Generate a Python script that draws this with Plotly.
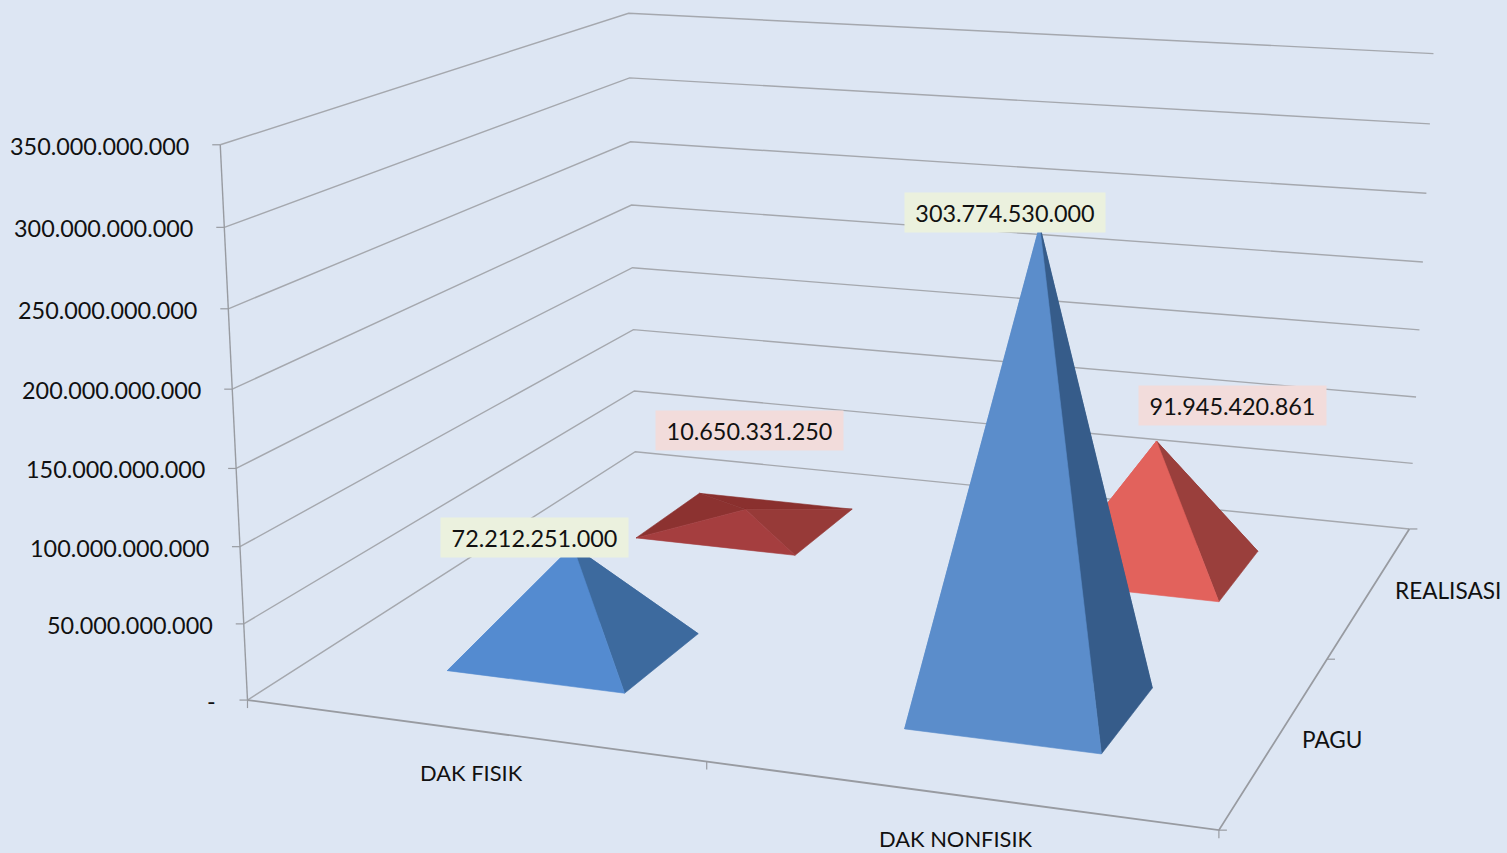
import numpy as np
import plotly.graph_objects as go

categories = ["DAK FISIK", "DAK NONFISIK"]
series = ["PAGU", "REALISASI"]
pagu = [72212251000, 303774530000]
realisasi = [10650331250, 91945420861]
z_ticks = [0, 50e9, 100e9, 150e9, 200e9, 250e9, 300e9, 350e9]
z_labels = ["-", "50.000.000.000", "100.000.000.000", "150.000.000.000", "200.000.000.000", "250.000.000.000", "300.000.000.000", "350.000.000.000"]
labels_pagu = ["72.212.251.000", "303.774.530.000"]
labels_realisasi = ["10.650.331.250", "91.945.420.861"]

W, H = 1507, 853
ZMAX = z_ticks[-1]

# Perspective camera of the chart box, solved from where the box's edges sit.
world = []
image = []
for lvl, (a, b, c) in enumerate(zip(
        [(248,700),(244,624),(240,546),(236,468),(232,389),(228,309),(224,228),(220,145)],
        [(635,452),(634,391),(633,329),(632,268),(632,205),(631,142),(630,78),(629,13)],
        [(1409,529),(1413,464),(1416,397),(1420,329),(1423,262),(1426,194),(1430,124),(1433,53)])):
    zn = lvl / 7
    world += [(0,0,zn),(0,1,zn),(1,1,zn)]
    image += [a, b, c]
world += [(1,0,0),(0.5,0,0),(1,0.5,0)]
image += [(1219,830),(707,762),(1327,659)]
world = np.array(world, float); image = np.array(image, float) / 1000
A = []
for (X,Y,Z),(u,v) in zip(world, image):
    A.append([X,Y,Z,1,0,0,0,0,-u*X,-u*Y,-u*Z,-u])
    A.append([0,0,0,0,X,Y,Z,1,-v*X,-v*Y,-v*Z,-v])
CAM = np.linalg.svd(np.array(A))[2][-1].reshape(3,4)

def proj(x, y, z):
    """x,y in category units (0..2), z in data units -> chart pixels."""
    q = CAM @ np.array([x / 2, y / 2, z / ZMAX, 1.0])
    return float(q[0] / q[2] * 1000), float(q[1] / q[2] * 1000)

GRID = "#a5a8ae"
AXIS = "#989ba1"
fig = go.Figure()

def line(points, width=1.4, color=GRID):
    xs, ys = zip(*points)
    fig.add_trace(go.Scatter(x=xs, y=ys, mode="lines", line=dict(color=color, width=width), hoverinfo="skip"))

for z in z_ticks:
    line([proj(0,0,z), proj(0,2,z), proj(2,2,z)])
    xa, ya = proj(0,0,z)
    line([(xa-8, ya), (xa, ya)], 1.2, AXIS)
line([proj(0,0,0), proj(0,0,ZMAX)], 1.4, AXIS)
line([proj(0,0,0), proj(2,0,0), proj(2,2,0)], 1.8, AXIS)
for t in [0,1,2]:
    xa, ya = proj(t,0,0); line([(xa,ya),(xa,ya+8)], 1.2, AXIS)
    xa, ya = proj(2,t,0); line([(xa,ya),(xa+8,ya)], 1.2, AXIS)

def pyramid(cx, cy, hx, hy, val, colors):
    c = [proj(cx-hx,cy-hy,0), proj(cx+hx,cy-hy,0), proj(cx+hx,cy+hy,0), proj(cx-hx,cy+hy,0)]
    apex = proj(cx,cy,val)
    # painter's order: back, left, right, front
    for a, b, col in [(2,3,colors[0]),(3,0,colors[1]),(1,2,colors[2]),(0,1,colors[3])]:
        pts = [c[a], c[b], apex, c[a]]
        xs, ys = zip(*pts)
        fig.add_trace(go.Scatter(x=xs, y=ys, mode="lines", fill="toself", fillcolor=col,
                                 line=dict(color=col, width=0.6), hoverinfo="skip"))
    return apex

RED_LOW = ["#8a302e", "#8c3230", "#973a38", "#a53e3f"]
RED_HIGH = ["#963b39", "#e2625c", "#9a3f3c", "#e2625c"]
BLUE1 = ["#3d6a9e", "#548bd0", "#3d6a9e", "#548bd0"]
BLUE2 = ["#365c8a", "#5b8dcb", "#365c8a", "#5b8dcb"]
HX, HY = 0.2, 0.2
ap_r1 = pyramid(0.5, 1.5, HX, HY, realisasi[0], RED_LOW)
ap_r2 = pyramid(1.5, 1.5, HX, HY, realisasi[1], RED_HIGH)
ap_p1 = pyramid(0.5, 0.5, HX, HY, pagu[0], BLUE1)
ap_p2 = pyramid(1.5, 0.5, HX, HY, pagu[1], BLUE2)

def fnt(size):
    return dict(family="Lato", size=size, color="#111111")
anns = []
def text(x, y, s, anchor="center", size=23.4):
    anns.append(dict(x=x, y=y, xref="x", yref="y", text=s, showarrow=False, font=fnt(size), xanchor=anchor, yanchor="middle"))

for z, s in zip(z_ticks, z_labels):
    xa, ya = proj(0,0,z)
    text(xa-29, ya+1, s, "right")
for s, t, (dx, dy) in zip(categories, [0.5,1.5], [(0,42),(0,44)]):
    xa, ya = proj(t,0,0); text(xa+dx, ya+dy, s, size=21.9)
for s, t, (dx, dy) in zip(series, [0.5,1.5], [(55.5,1),(77,1)]):
    xa, ya = proj(2,t,0); text(xa+dx, ya+dy, s, size=22.6)

def box(apex, s, col, w, dx, dy):
    anns.append(dict(x=apex[0]+dx, y=apex[1]+dy, xref="x", yref="y", text=s, showarrow=False, font=fnt(23.4),
                     bgcolor=col, width=w, height=39, borderpad=0, xanchor="center", yanchor="middle"))
box(ap_p1, labels_pagu[0], "#ebf1de", 187, 534.5-575+2, 537.5-553+7)
box(ap_p2, labels_pagu[1], "#ebf1de", 200, 1005-1040, 212.5-232+6)
box(ap_r1, labels_realisasi[0], "#f2dcdb", 187, 3.5, 430-507-2)
box(ap_r2, labels_realisasi[1], "#f2dcdb", 187, 1232.5-1157, 405.5-441)

fig.update_layout(
    width=W, height=H, margin=dict(l=0, r=0, t=0, b=0), paper_bgcolor="#dde6f3", plot_bgcolor="#dde6f3",
    showlegend=False, annotations=anns,
    xaxis=dict(range=[0, W], visible=False, fixedrange=True),
    yaxis=dict(range=[H, 0], visible=False, fixedrange=True),
)
fig.write_html("out.html", config=dict(displayModeBar=False),
               post_script="document.body.style.margin='0';document.body.style.overflow='hidden';")
